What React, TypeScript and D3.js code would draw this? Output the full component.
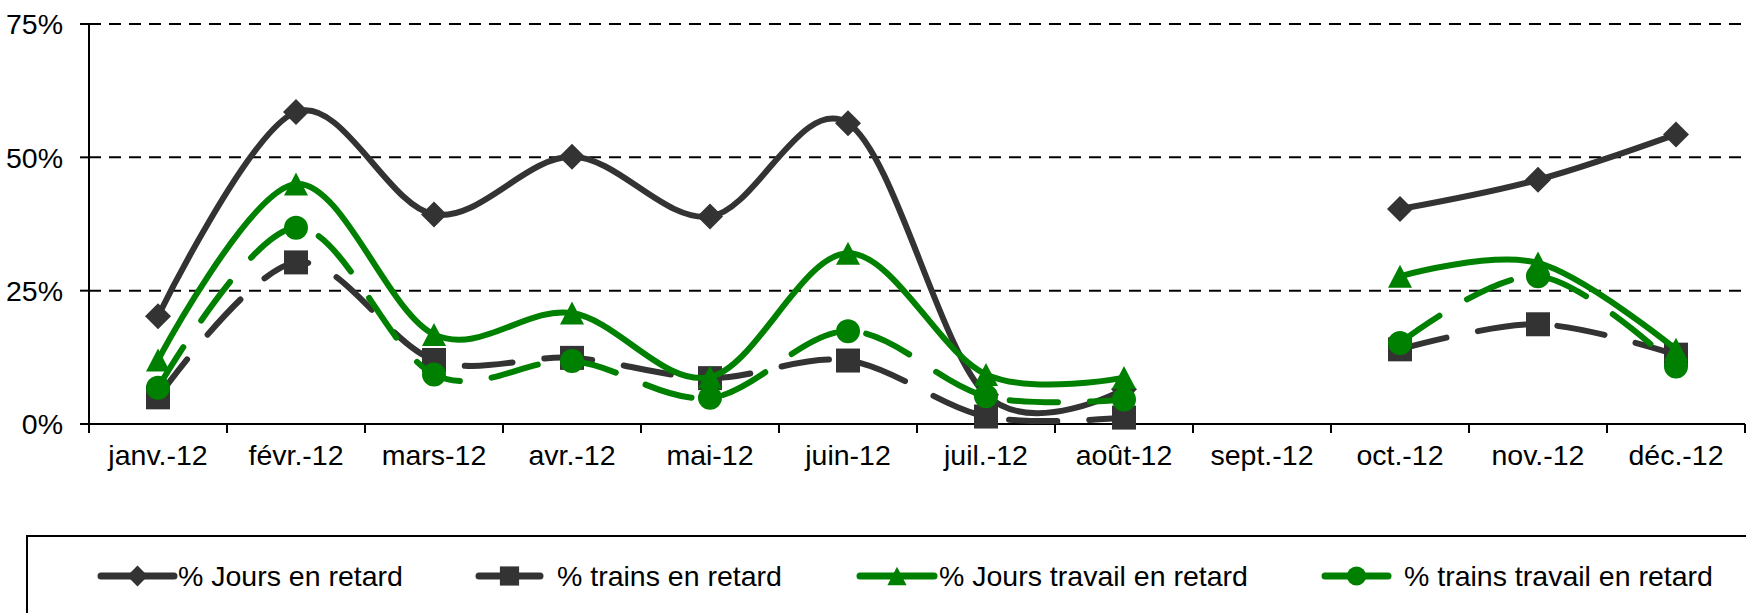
import React from "react";
import * as d3 from "d3";

// months of 2012, sept. has no data
const months = ["janv.-12", "févr.-12", "mars-12", "avr.-12", "mai-12", "juin-12", "juil.-12", "août-12", "sept.-12", "oct.-12", "nov.-12", "déc.-12"];

// values in %
const joursRetard = [20.2, 58.5, 39.3, 50.1, 38.9, 56.4, 5.5, 6.5, null, 40.3, 45.8, 54.3];
const trainsRetard = [5, 30.3, 12, 12.4, 8.6, 11.9, 1.4, 1.2, null, 14, 18.7, 13];
const joursTravailRetard = [12, 45, 16.8, 20.8, 8.8, 32, 9.3, 8.7, null, 27.7, 30.2, 14];
const trainsTravailRetard = [6.8, 36.8, 9.3, 11.8, 4.9, 17.4, 5.2, 4.6, null, 15.2, 27.7, 10.8];

const yTicks = [0, 25, 50, 75];
const seriesNames = ["% Jours en retard", "% trains en retard", "% Jours travail en retard", "% trains travail en retard"];

const DARK = "#333333";
const GREEN = "#008000";
const FONT = "'Liberation Sans', Arial, sans-serif";
const FS = 28.5;

const W = 1746;
const H = 613;
const left = 89;
const right = 1745;
const top = 24;
const bottom = 424;

// marker path centred on 0,0
const markerPath = (kind: string, s = 1) => {
  if (kind === "diamond") {
    const r = 13 * s;
    return `M0,${-r}L${r},0L0,${r}L${-r},0Z`;
  }
  if (kind === "square") {
    const r = 12 * s;
    return `M${-r},${-r}H${r}V${r}H${-r}Z`;
  }
  if (kind === "triangle") {
    const w = 12 * s, h = 11.5 * s;
    return `M0,${-h}L${w},${h}L${-w},${h}Z`;
  }
  const r = 12 * s;
  return `M${-r},0A${r},${r} 0 1,0 ${r},0A${r},${r} 0 1,0 ${-r},0Z`;
};

const series = [
  { name: seriesNames[0], values: joursRetard, color: DARK, dash: null, marker: "diamond" },
  { name: seriesNames[1], values: trainsRetard, color: DARK, dash: "48 32", marker: "square" },
  { name: seriesNames[2], values: joursTravailRetard, color: GREEN, dash: null, marker: "triangle" },
  { name: seriesNames[3], values: trainsTravailRetard, color: GREEN, dash: "48 32", marker: "circle" },
];

// legend layout (line start, line end, text start)
const legendPos = [
  [101, 174, 178],
  [479, 540, 557],
  [860, 934, 939],
  [1325, 1388, 1404],
];

export default function App() {
  const x = d3.scaleBand<string>().domain(months).range([left, right]);
  const cx = (m: string) => (x(m) as number) + x.bandwidth() / 2;
  const y = d3.scaleLinear().domain([0, 75]).range([bottom, top]);

  const line = d3
    .line<number | null>()
    .defined((d) => d !== null)
    .x((_, i) => cx(months[i]))
    .y((d) => y(d as number))
    .curve(d3.curveCatmullRom.alpha(0));

  const boundaries = d3.range(months.length + 1).map((i) => left + i * x.bandwidth());
  const legendY = 576;

  return (
    <svg width={W} height={H} style={{ position: "fixed", left: 0, top: 0, background: "#fff" }} fontFamily={FONT}>
      <rect x={0} y={0} width={W} height={H} fill="#fff" />
      {/* gridlines */}
      {yTicks.filter((t) => t > 0).map((t) => (
        <line key={t} x1={left} x2={right} y1={y(t)} y2={y(t)} stroke="#000" strokeWidth={2} strokeDasharray="12 8" />
      ))}
      {/* y axis */}
      <line x1={left} x2={left} y1={top} y2={bottom + 9} stroke="#000" strokeWidth={2} />
      {yTicks.map((t) => (
        <g key={t}>
          <line x1={left - 9} x2={left} y1={y(t)} y2={y(t)} stroke="#000" strokeWidth={2} />
          <text x={63} y={y(t)} dy="0.36em" textAnchor="end" fontSize={FS} fill="#000">
            {t}%
          </text>
        </g>
      ))}
      {/* x axis */}
      <line x1={left - 9} x2={right} y1={bottom} y2={bottom} stroke="#000" strokeWidth={2} />
      {boundaries.map((bx, i) => (
        <line key={i} x1={bx} x2={bx} y1={bottom} y2={bottom + 9} stroke="#000" strokeWidth={2} />
      ))}
      {months.map((m) => (
        <text key={m} x={cx(m)} y={465} textAnchor="middle" fontSize={FS} fill="#000">
          {m}
        </text>
      ))}
      {/* series */}
      {series.map((s) => (
        <g key={s.name}>
          <path
            d={line(s.values) || ""}
            fill="none"
            stroke={s.color}
            strokeWidth={6}
            strokeLinecap="round"
            strokeLinejoin="round"
            strokeDasharray={s.dash || undefined}
          />
          {s.values.map((v, i) =>
            v === null ? null : (
              <path key={i} d={markerPath(s.marker)} transform={`translate(${cx(months[i])},${y(v)})`} fill={s.color} />
            )
          )}
        </g>
      ))}
      {/* legend */}
      <rect x={27} y={536} width={W} height={H} fill="#fff" stroke="#000" strokeWidth={2} />
      {series.map((s, i) => {
        const [x1, x2, tx] = legendPos[i];
        return (
          <g key={s.name}>
            <line x1={x1} x2={x2} y1={legendY} y2={legendY} stroke={s.color} strokeWidth={7} strokeLinecap="round" />
            <path d={markerPath(s.marker, 0.8)} transform={`translate(${(x1 + x2) / 2},${legendY})`} fill={s.color} />
            <text x={tx} y={legendY} dy="0.36em" fontSize={FS} fill="#000">
              {s.name}
            </text>
          </g>
        );
      })}
    </svg>
  );
}
